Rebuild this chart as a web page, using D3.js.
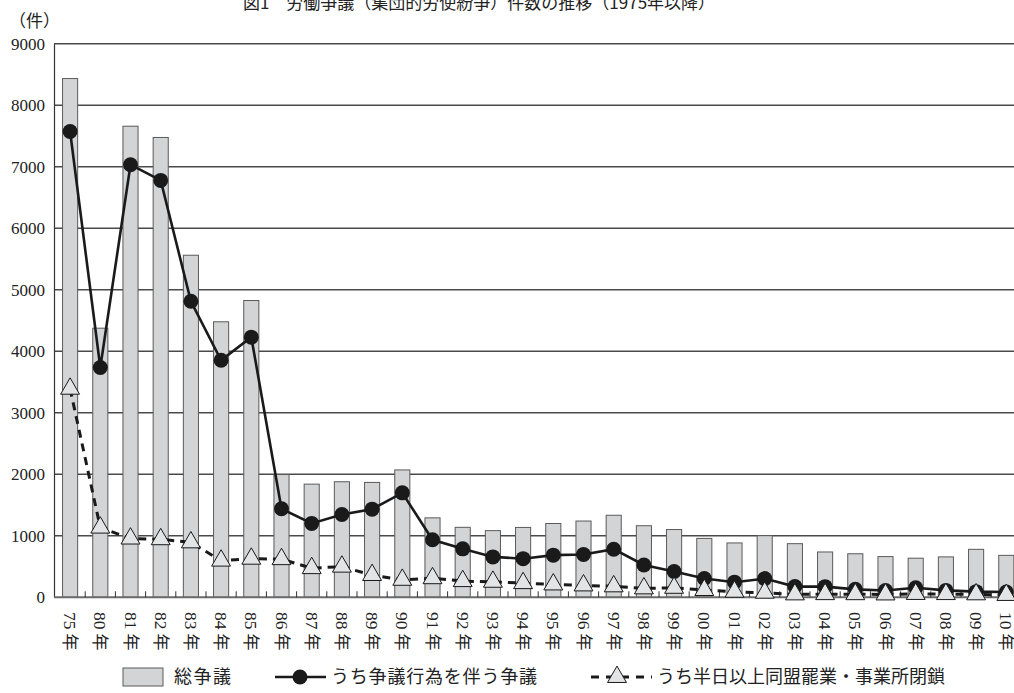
<!DOCTYPE html>
<html><head><meta charset="utf-8">
<script src="https://cdn.jsdelivr.net/npm/d3@7"></script>
<style>
body{margin:0;background:#fff;}
svg{display:block;}
text{font-family:"Liberation Serif","DejaVu Serif","Noto Sans CJK JP",serif;fill:#222;}
</style></head>
<body>
<svg id="c" width="1014" height="693"></svg>
<script>
const categories = ["75年","80年","81年","82年","83年","84年","85年","86年","87年","88年","89年","90年","91年","92年","93年","94年","95年","96年","97年","98年","99年","00年","01年","02年","03年","04年","05年","06年","07年","08年","09年","10年"];
const totalDisputes = [8435,4376,7660,7477,5562,4480,4826,1996,1840,1879,1868,2071,1292,1138,1084,1136,1200,1240,1334,1164,1102,958,884,1002,872,737,708,662,636,657,780,682];
const withActions = [7574,3737,7034,6779,4814,3855,4230,1439,1202,1347,1433,1698,935,788,657,628,685,695,782,526,419,305,246,304,174,173,129,111,156,112,92,85];
const halfDayStrikes = [3391,1133,955,944,893,596,627,620,474,498,362,284,310,263,252,230,209,193,178,145,154,118,90,74,47,51,50,46,54,52,48,38];
const yTicks = [0,1000,2000,3000,4000,5000,6000,7000,8000,9000];
const seriesNames = ["総争議","うち争議行為を伴う争議","うち半日以上同盟罷業・事業所閉鎖"];
const titleText = "図1　労働争議（集団的労使紛争）件数の推移（1975年以降）";
const unitText = "（件）";

const svg = d3.select("#c");
const plotLeft = 54, plotRight = 1014, plotTop = 43.8, plotBottom = 597.3;
const step = 30.2;
const x = d3.scaleBand().domain(categories).range([55, 55 + step*categories.length]).paddingInner(0.5).paddingOuter(0.25);
const y = d3.scaleLinear().domain([0,9000]).range([plotBottom, plotTop]);

// title (partially cut at top, as in the reference)
svg.append("text").attr("x",479).attr("y",9).attr("text-anchor","middle")
  .style("font-family","'Noto Sans CJK JP',sans-serif").style("font-size","17px").attr("fill","#333").text(titleText);
svg.append("text").attr("x",9).attr("y",27).style("font-size","17px").text(unitText);

// gridlines
svg.append("g").selectAll("line").data(yTicks.filter(d=>d>0)).join("line")
  .attr("x1",plotLeft).attr("x2",plotRight).attr("y1",d=>y(d)).attr("y2",d=>y(d))
  .attr("stroke","#4a4a4a").attr("stroke-width",1.4);

// y axis
const yAxis = d3.axisLeft(y).tickValues(yTicks).tickSize(0).tickPadding(9).tickFormat(d3.format("d"));
const gy = svg.append("g").attr("transform",`translate(${plotLeft},0)`).call(yAxis);
gy.select(".domain").attr("stroke","#333").attr("stroke-width",1.2);
gy.selectAll("text").style("font-size","17px").style("font-family","'Liberation Serif',serif").attr("fill","#222");

// bars
svg.append("g").selectAll("rect").data(totalDisputes).join("rect")
  .attr("x",(d,i)=>x(categories[i])).attr("width",x.bandwidth())
  .attr("y",d=>y(d)).attr("height",d=>y(0)-y(d))
  .attr("fill","#d3d4d6").attr("stroke","#5a5a5a").attr("stroke-width",1);

// x axis
const xAxis = d3.axisBottom(x).tickSize(0).tickFormat("");
const gx = svg.append("g").attr("transform",`translate(0,${plotBottom})`).call(xAxis);
gx.select(".domain").remove();
svg.append("line").attr("x1",plotLeft).attr("x2",plotRight).attr("y1",plotBottom).attr("y2",plotBottom).attr("stroke","#6a6a6a").attr("stroke-width",2);
// boundary ticks
svg.append("g").selectAll("line").data(categories.slice(1)).join("line")
  .attr("x1",d=>x(d)-x.step()*x.paddingInner()/2).attr("x2",d=>x(d)-x.step()*x.paddingInner()/2)
  .attr("y1",plotBottom).attr("y2",plotBottom-6).attr("stroke","#333").attr("stroke-width",1);
// labels (rotated, reading downward)
const xl = svg.append("g").selectAll("text").data(categories).join("text")
  .attr("transform",d=>`translate(${x(d)+x.bandwidth()/2},612) rotate(90)`)
  .attr("dominant-baseline","central").attr("text-anchor","start")
  .style("font-size","17.5px");
xl.append("tspan").text(d=>d.slice(0,-1));
xl.append("tspan").attr("dx",4).style("font-size","17px").text(d=>d.slice(-1));

const cx = (i)=>x(categories[i])+x.bandwidth()/2;

// solid line with circles
const line1 = d3.line().x((d,i)=>cx(i)).y(d=>y(d));
svg.append("path").datum(withActions).attr("d",line1).attr("fill","none").attr("stroke","#1a1a1a").attr("stroke-width",2.6);
svg.append("g").selectAll("circle").data(withActions).join("circle")
  .attr("cx",(d,i)=>cx(i)).attr("cy",d=>y(d)).attr("r",7.5).attr("fill","#1a1a1a");

// dashed line with triangles
const line2 = d3.line().x((d,i)=>cx(i)).y(d=>y(d));
svg.append("path").datum(halfDayStrikes).attr("d",line2).attr("fill","none").attr("stroke","#1a1a1a").attr("stroke-width",3).attr("stroke-dasharray","8,6");
const tri = d3.symbol().type(d3.symbolTriangle).size(155);
svg.append("g").selectAll("path").data(halfDayStrikes).join("path")
  .attr("d",tri).attr("transform",(d,i)=>`translate(${cx(i)},${y(d)})`)
  .attr("fill","#e3e4e6").attr("stroke","#1a1a1a").attr("stroke-width",1);

// legend
const ly = 677;
const lg = svg.append("g");
lg.append("rect").attr("x",123).attr("y",ly-9).attr("width",40).attr("height",18).attr("fill","#d3d4d6").attr("stroke","#5a5a5a");
lg.append("text").attr("x",174).attr("y",ly).attr("dominant-baseline","central").style("font-size","18px").style("letter-spacing","1.5px").text(seriesNames[0]);
lg.append("line").attr("x1",275).attr("x2",326).attr("y1",ly).attr("y2",ly).attr("stroke","#1a1a1a").attr("stroke-width",2.6);
lg.append("circle").attr("cx",300).attr("cy",ly).attr("r",7.5).attr("fill","#1a1a1a");
lg.append("text").attr("x",331).attr("y",ly).attr("dominant-baseline","central").style("font-size","18px").style("letter-spacing","0.8px").text(seriesNames[1]);
lg.append("line").attr("x1",591).attr("x2",652).attr("y1",ly).attr("y2",ly).attr("stroke","#1a1a1a").attr("stroke-width",3).attr("stroke-dasharray","8,7");
lg.append("path").attr("d",tri).attr("transform",`translate(617,${ly})`).attr("fill","#e3e4e6").attr("stroke","#1a1a1a");
lg.append("text").attr("x",657).attr("y",ly).attr("dominant-baseline","central").style("font-size","18px").text(seriesNames[2]);
</script>
</body></html>
